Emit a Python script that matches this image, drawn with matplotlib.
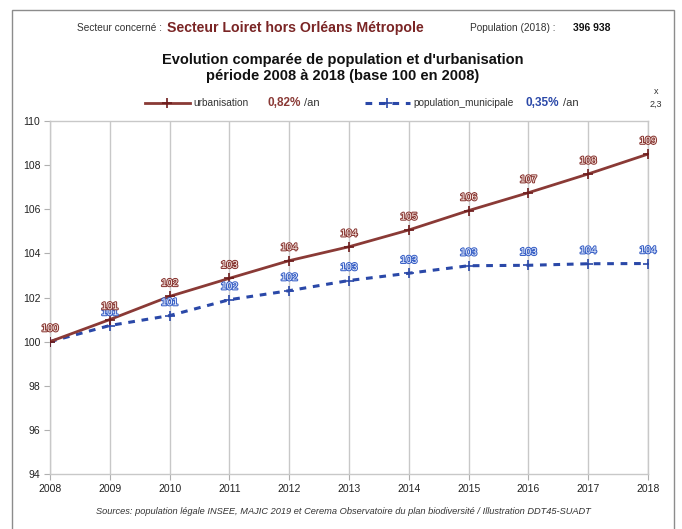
import matplotlib
matplotlib.use("Agg")
import matplotlib.pyplot as plt
import matplotlib.patheffects as pe
from matplotlib.lines import Line2D

plt.rcParams['font.family'] = ['Liberation Sans', 'DejaVu Sans']

years = [2008, 2009, 2010, 2011, 2012, 2013, 2014, 2015, 2016, 2017, 2018]
urbanisation = [100.0, 101.0, 102.05, 102.87, 103.67, 104.3, 105.06, 105.94, 106.75, 107.6, 108.5]
population = [100.0, 100.73, 101.18, 101.9, 102.31, 102.77, 103.1, 103.44, 103.46, 103.53, 103.54]
urb_labels = ["100", "101", "102", "103", "104", "104", "105", "106", "107", "108", "109"]
pop_labels = ["100", "101", "101", "102", "102", "103", "103", "103", "103", "104", "104"]
yticks = [94, 96, 98, 100, 102, 104, 106, 108, 110]

RED = '#8a3a36'
RED_D = '#6e1c1c'
BLUE = '#2a48a8'

fig = plt.figure(figsize=(6.82, 5.29), dpi=100)
W, H = 682, 529

# outer frame
fig.patches.append(plt.Rectangle((12 / W, -0.01), (674 - 12) / W, 1 - 10 / H + 0.01,
                                 transform=fig.transFigure, fill=False,
                                 edgecolor='#8c8c8c', linewidth=1.0))

ax = fig.add_axes([50 / W, 1 - 474 / H, (648 - 50) / W, (474 - 121) / H])
ax.plot(years, urbanisation, color=RED, linewidth=2, marker='+', markersize=7,
        markeredgecolor=RED_D, markeredgewidth=1.2, zorder=4)
ax.plot(years, population, color=BLUE, linewidth=2.2, linestyle=(0, (2.2, 2.2)), marker='+',
        markersize=7, markeredgecolor=BLUE, markeredgewidth=1.2, zorder=3)

for x, y, t in zip(years, urbanisation, urb_labels):
    ax.annotate(t, (x, y), xytext=(0, 6), textcoords='offset points', ha='center', va='bottom',
                fontsize=7.3, color='#fff4ee',
                path_effects=[pe.withStroke(linewidth=1.5, foreground=RED)], zorder=6)
for x, y, t in zip(years, population, pop_labels):
    if x == 2008:
        continue
    ax.annotate(t, (x, y), xytext=(0, 6), textcoords='offset points', ha='center', va='bottom',
                fontsize=7.3, color='#eef3ff',
                path_effects=[pe.withStroke(linewidth=1.5, foreground='#3b62c6')], zorder=5)

ax.set_xlim(2008, 2018)
ax.set_ylim(94, 110)
ax.set_xticks(years)
ax.set_yticks(yticks)
ax.tick_params(labelsize=7.5, colors='#222222', length=4, color='#b0b0b0', pad=3)
ax.grid(axis='x', color='#c8c8c8', linewidth=1)
for s in ['left', 'bottom', 'top', 'right']:
    ax.spines[s].set_color('#c8c8c8')
    ax.spines[s].set_linewidth(1)
ax.set_axisbelow(True)

# header texts
fig.text(162 / W, 1 - 28 / H, "Secteur concerné :", ha='right', va='center', fontsize=7.3, color='#333333')
fig.text(167 / W, 1 - 28 / H, "Secteur Loiret hors Orléans Métropole", ha='left', va='center',
         fontsize=10.2, fontweight='bold', color='#7a2525')
fig.text(470 / W, 1 - 28 / H, "Population (2018) :", ha='left', va='center', fontsize=7.3, color='#333333')
fig.text(573 / W, 1 - 28 / H, "396 938", ha='left', va='center', fontsize=7.5, fontweight='bold',
         color='#111111')

fig.text(343 / W, 1 - 60 / H, "Evolution comparée de population et d'urbanisation", ha='center',
         va='center', fontsize=10.5, fontweight='bold', color='#111111')
fig.text(343 / W, 1 - 76 / H, "période 2008 à 2018 (base 100 en 2008)", ha='center',
         va='center', fontsize=10.5, fontweight='bold', color='#111111')

# legend row
ly = 1 - 103 / H
fig.add_artist(Line2D([145 / W, 190 / W], [ly, ly], transform=fig.transFigure, color=RED, linewidth=2))
fig.add_artist(Line2D([167 / W], [ly], transform=fig.transFigure, marker='+', markersize=7,
                      markeredgecolor=RED_D, markeredgewidth=1.2, linestyle='none'))
fig.text(193 / W, ly, "urbanisation", ha='left', va='center', fontsize=7.3, color='#333333')
fig.text(268 / W, ly, "0,82%", ha='left', va='center', fontsize=8.5, fontweight='bold', color='#8a3a36')
fig.text(304 / W, ly, "/an", ha='left', va='center', fontsize=8, color='#333333')

fig.add_artist(Line2D([365 / W, 410 / W], [ly, ly], transform=fig.transFigure, color=BLUE,
                      linewidth=2.2, linestyle=(0, (2.2, 2.2))))
fig.add_artist(Line2D([387 / W], [ly], transform=fig.transFigure, marker='+', markersize=7,
                      markeredgecolor=BLUE, markeredgewidth=1.2, linestyle='none'))
fig.text(413 / W, ly, "population_municipale", ha='left', va='center', fontsize=7.3, color='#333333')
fig.text(526 / W, ly, "0,35%", ha='left', va='center', fontsize=8.5, fontweight='bold', color='#2a48a8')
fig.text(563 / W, ly, "/an", ha='left', va='center', fontsize=8, color='#333333')

fig.text(656 / W, 1 - 91 / H, "x", ha='center', va='center', fontsize=6.5, color='#333333')
fig.text(656 / W, 1 - 104 / H, "2,3", ha='center', va='center', fontsize=6.5, color='#333333')

fig.text(343 / W, 1 - 511 / H,
         "Sources: population légale INSEE, MAJIC 2019 et Cerema Observatoire du plan biodiversité / Illustration DDT45-SUADT",
         ha='center', va='center', fontsize=6.7, style='italic', color='#333333')

fig.savefig("out.png", dpi=100)
